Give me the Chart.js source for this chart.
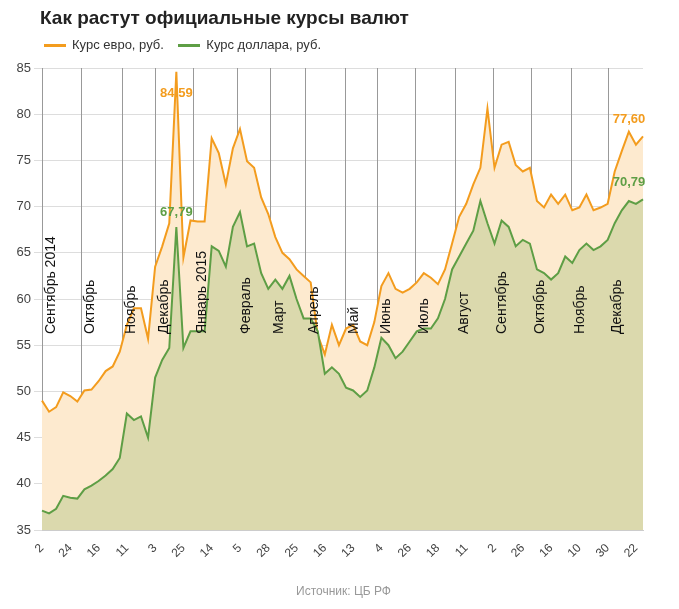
<!DOCTYPE html>
<html>
<head>
<meta charset="utf-8">
<script src="https://cdn.jsdelivr.net/npm/chart.js@4"></script>
<style>
  body { margin: 0; background: #fff; font-family: Arial, "Liberation Sans", sans-serif; }
  #wrap { position: relative; width: 679px; height: 609px; }
  #title { position: absolute; left: 40px; top: 7px; font-size: 19px; font-weight: bold; color: #222; }
  #legend { position: absolute; left: 44px; top: 37px; font-size: 13px; color: #333; }
  #legend span.sw { display: inline-block; width: 22px; height: 3px; vertical-align: middle; margin-right: 6px; }
  #source { position: absolute; left: 296px; top: 584px; font-size: 12px; color: #999; }
  canvas { position: absolute; left: 0; top: 0; }
</style>
</head>
<body>
<div id="wrap">
  <canvas id="kurs" width="679" height="609"></canvas>
  <div id="title">Как растут официальные курсы валют</div>
  <div id="legend"><span class="sw" style="background:#f39c1e"></span>Курс евро, руб.&nbsp;&nbsp;&nbsp;&nbsp;<span class="sw" style="background:#5e9e45"></span>Курс доллара, руб.</div>
  <div id="source">Источник: ЦБ РФ</div>
</div>
<script>
// подписи оси X (каждая 4-я точка)
const tickLabels = ["2","24","16","11","3","25","14","5","28","25","16","13","4","26","18","11","2","26","16","10","30","22"];

const euro = [49.0,47.8,48.3,49.9,49.5,48.9,50.1,50.2,51.1,52.2,52.7,54.3,57.2,59.0,59.0,55.7,
  63.5,65.7,68.2,84.59,64.5,68.5,68.4,68.4,77.4,75.8,72.4,76.3,78.4,74.9,74.2,71.0,69.2,66.7,65.0,64.3,
  63.2,62.5,61.8,56.1,54.0,57.2,55.0,56.8,57.2,55.4,55.0,57.5,61.4,62.8,61.1,60.7,61.1,61.8,62.8,62.3,
  61.6,63.2,66.0,68.9,70.3,72.4,74.2,80.6,74.2,76.7,77.0,74.5,73.8,74.2,70.6,69.9,71.3,70.3,71.3,69.6,
  69.9,71.3,69.6,69.9,70.3,73.8,76.0,78.1,76.7,77.6];

const dollar = [37.1,36.8,37.3,38.7,38.5,38.4,39.4,39.8,40.3,40.9,41.6,42.8,47.6,46.9,47.3,45.0,
  51.5,53.4,54.7,67.79,54.7,56.5,56.5,56.5,65.7,65.2,63.5,67.8,69.4,65.7,66.0,62.8,61.1,62.1,61.1,62.5,
  60.0,57.9,57.9,56.5,51.9,52.6,51.9,50.4,50.1,49.4,50.1,52.6,55.8,55.0,53.6,54.3,55.4,56.5,56.8,56.8,
  57.9,60.0,63.2,64.6,66.0,67.4,70.6,68.2,66.0,68.5,67.8,65.7,66.4,66.0,63.2,62.8,62.1,62.8,64.6,63.9,
  65.3,66.0,65.3,65.7,66.4,68.2,69.6,70.6,70.3,70.79];

// месяцы: название и позиция (в индексах точек)
const months = ["Сентябрь 2014","Октябрь","Ноябрь","Декабрь","Январь 2015","Февраль","Март","Апрель",
  "Май","Июнь","Июль","Август","Сентябрь","Октябрь","Ноябрь","Декабрь"];
const monthPos = [0,5.5,11.3,16,21.4,27.6,32.2,37.2,42.9,47.4,52.8,58.4,63.8,69.2,74.8,80];

// подписи значений
const notes = [
  { i: 19, text: "84.59", series: euro, color: "#f39c1e", dx: 0, dy: 28 },
  { i: 19, text: "67,79", series: dollar, color: "#5e9e45", dx: 0, dy: -8 },
  { i: 85, text: "77,60", series: euro, color: "#f39c1e", dx: -14, dy: -10 },
  { i: 85, text: "70,79", series: dollar, color: "#5e9e45", dx: -14, dy: -10 }
];

const labels = euro.map((v, i) => i % 4 === 0 ? tickLabels[i / 4] : "");

const monthPlugin = {
  id: "months",
  beforeDatasetsDraw(chart) {
    const { ctx, chartArea, scales } = chart;
    const x0 = scales.x.getPixelForValue(0), x1 = scales.x.getPixelForValue(1);
    ctx.save();
    ctx.strokeStyle = "#999";
    ctx.lineWidth = 1;
    monthPos.forEach(p => {
      const x = Math.round(x0 + (x1 - x0) * p) + 0.5;
      ctx.beginPath();
      ctx.moveTo(x, chartArea.top);
      ctx.lineTo(x, chartArea.bottom);
      ctx.stroke();
    });
    ctx.restore();
  },
  afterDatasetsDraw(chart) {
    const { ctx, scales } = chart;
    const x0 = scales.x.getPixelForValue(0), x1 = scales.x.getPixelForValue(1);
    ctx.save();
    ctx.font = "14px Arial, 'Liberation Sans'";
    ctx.fillStyle = "#111";
    ctx.textBaseline = "middle";
    monthPos.forEach((p, k) => {
      const x = x0 + (x1 - x0) * p + 9;
      ctx.save();
      ctx.translate(x, 334);
      ctx.rotate(-Math.PI / 2);
      ctx.fillText(months[k], 0, 0);
      ctx.restore();
    });
    ctx.font = "bold 13px Arial, 'Liberation Sans'";
    ctx.textAlign = "center";
    ctx.textBaseline = "bottom";
    notes.forEach(n => {
      const x = scales.x.getPixelForValue(n.i);
      const y = scales.y.getPixelForValue(n.series[n.i]);
      ctx.fillStyle = n.color;
      ctx.fillText(n.text, x + n.dx, y + n.dy);
    });
    ctx.restore();
  }
};

new Chart(document.getElementById("kurs"), {
  type: "line",
  data: {
    labels,
    datasets: [
      { label: "Курс доллара, руб.", data: dollar, borderColor: "#5e9e45", backgroundColor: "#dbd9ad",
        fill: "origin", borderWidth: 2, pointRadius: 0, tension: 0, order: 1 },
      { label: "Курс евро, руб.", data: euro, borderColor: "#f39c1e", backgroundColor: "#fdeacf",
        fill: "origin", borderWidth: 2, pointRadius: 0, tension: 0, order: 2 }
    ]
  },
  options: {
    responsive: false,
    animation: false,
    layout: { padding: { top: 68, right: 36, bottom: 40, left: 0 } },
    plugins: { legend: { display: false }, tooltip: { enabled: false } },
    scales: {
      x: {
        offset: false,
        grid: { display: false },
        border: { color: "#ccc" },
        afterFit: s => { s.height = 39; },
        ticks: { autoSkip: false, maxRotation: 45, minRotation: 45, color: "#444",
          font: { size: 12, family: "Arial" } }
      },
      y: {
        min: 35, max: 85,
        afterFit: s => { s.width = 42; },
        grid: { color: "#ddd" },
        border: { display: false },
        ticks: { stepSize: 5, color: "#444", font: { size: 13, family: "Arial" } }
      }
    }
  },
  plugins: [monthPlugin]
});
</script>
</body>
</html>
